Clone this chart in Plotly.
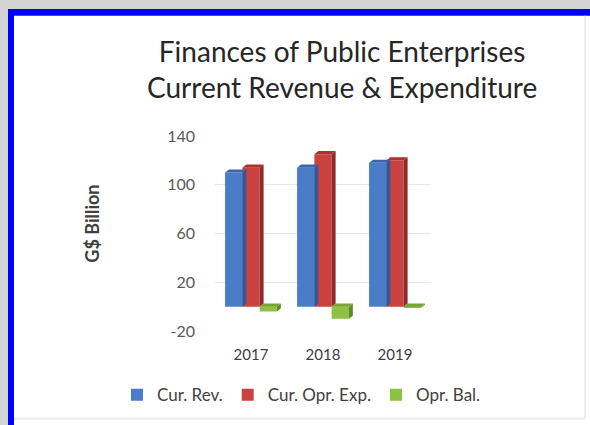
import plotly.graph_objects as go

# Data (G$ billion)
years = ["2017", "2018", "2019"]
cur_rev = [110, 114, 118]
cur_opr_exp = [114, 125, 120]
opr_bal = [-4, -10, -1]

series_names = ["Cur. Rev.", "Cur. Opr. Exp.", "Opr. Bal."]
series_colors = ["#4A7CC7", "#C9423F", "#8DC043"]
side_colors = ["#2F5A9A", "#8E2A28", "#5E8A2A"]
top_colors = ["#3B66AA", "#A8332F", "#76A535"]
y_ticks = [-20, 20, 60, 100, 140]
y_tick_labels = ["-20", "20", "60", "100", "140"]

W, H = 590, 425
L, R, T, B = 215, 159, 136, 91
PW, PH = W - L - R, H - T - B
BARGAP = 0.28


def px_x(p):
    return (p - L) / PW


def px_y(p):
    return (H - B - p) / PH


fig = go.Figure()
all_series = [cur_rev, cur_opr_exp, opr_bal]
for name, vals, col in zip(series_names, all_series, series_colors):
    fig.add_trace(go.Bar(
        x=years, y=vals, name=name,
        marker=dict(color=col, line=dict(width=0)),
    ))

# Shaded depth faces (right side + top) following each bar's value
depth_x = 0.055          # in category units
depth_y = 2.6            # in data units
bar_w = (1 - BARGAP) / len(all_series)
shapes = [
    # blue frame
    dict(type="rect", xref="paper", yref="paper", layer="below",
         x0=px_x(8), x1=px_x(600), y0=px_y(7), y1=px_y(440),
         fillcolor="#0000FF", line=dict(width=0)),
    # white chart area
    dict(type="rect", xref="paper", yref="paper", layer="below",
         x0=px_x(14), x1=px_x(600), y0=px_y(14), y1=px_y(440),
         fillcolor="#FFFFFF", line=dict(width=0)),
    # faint outer edges of the chart area
    dict(type="line", xref="paper", yref="paper", layer="below",
         x0=px_x(585), x1=px_x(585), y0=px_y(14), y1=px_y(423),
         line=dict(color="#ececec", width=2)),
    dict(type="line", xref="paper", yref="paper", layer="below",
         x0=px_x(14), x1=px_x(585), y0=px_y(423), y1=px_y(423),
         line=dict(color="#ececec", width=2)),
]
for s, vals in enumerate(all_series):
    for i, v in enumerate(vals):
        x_left = i - (1 - BARGAP) / 2 + s * bar_w
        x_right = x_left + bar_w
        top = max(v, 0)
        bot = min(v, 0)
        side = (f"M {x_right} {bot} L {x_right + depth_x} {bot + depth_y} "
                f"L {x_right + depth_x} {top + depth_y} L {x_right} {top} Z")
        cap = (f"M {x_left} {top} L {x_left + depth_x} {top + depth_y} "
               f"L {x_right + depth_x} {top + depth_y} L {x_right} {top} Z")
        shapes.append(dict(type="path", xref="x", yref="y", path=side,
                           fillcolor=side_colors[s], line=dict(width=0)))
        shapes.append(dict(type="path", xref="x", yref="y", path=cap,
                           fillcolor=top_colors[s], line=dict(width=0)))

font = "Lato, 'Open Sans', sans-serif"

fig.update_layout(
    width=W, height=H,
    margin=dict(l=L, r=R, t=T, b=B),
    paper_bgcolor="#d4d4d4",
    plot_bgcolor="rgba(0,0,0,0)",
    barmode="group",
    bargap=BARGAP,
    bargroupgap=0,
    font=dict(family=font, color="#595959"),
    xaxis=dict(
        showgrid=False, zeroline=False, showline=False, ticks="",
        tickfont=dict(size=15, color="#404040"),
        ticklabelstandoff=13,
        range=[-0.5, 2.5],
    ),
    yaxis=dict(
        range=[-20, 140], tickvals=y_ticks, ticktext=y_tick_labels,
        showgrid=True, gridcolor="#e8e8e8", gridwidth=1,
        zeroline=False, showline=False, ticks="",
        tickfont=dict(size=16, color="#595959"),
        ticklabelstandoff=19,
    ),
    legend=dict(
        orientation="h", x=px_x(117), y=px_y(381),
        xanchor="left", yanchor="top",
        bgcolor="rgba(0,0,0,0)",
        font=dict(size=17, color="#404040"),
        itemwidth=30, tracegroupgap=0,
    ),
    showlegend=True,
    annotations=[
        dict(text="Finances of Public Enterprises<br>Current Revenue & Expenditure",
             x=px_x(342), y=px_y(30), xref="paper", yref="paper",
             xanchor="center", yanchor="top", showarrow=False,
             font=dict(size=28, color="#262626", family=font)),
        dict(text="G$ Billion", textangle=-90,
             x=px_x(79), y=px_y(225), xref="paper", yref="paper",
             showarrow=False,
             font=dict(size=18, color="#404040", family=font, weight="bold")),
    ],
    shapes=shapes,
)

fig.write_html("out.html")
